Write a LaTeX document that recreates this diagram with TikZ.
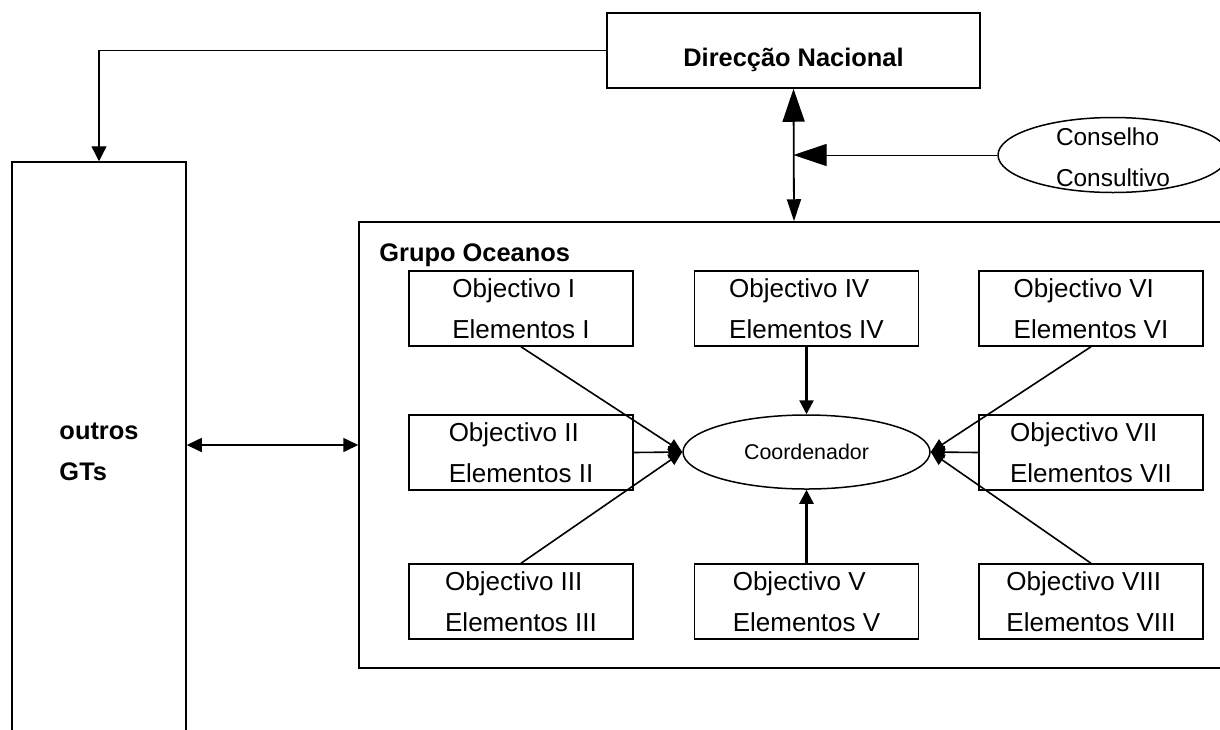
\documentclass[tikz,border=0pt]{standalone}
\usepackage{fontspec}
\setmainfont{Liberation Sans}
\usetikzlibrary{shapes.geometric, arrows.meta, calc}

\begin{document}
\begin{tikzpicture}[x=0.5pt, y=-0.5pt,
    box/.style={draw, line width=0.75pt, inner sep=0pt},
    bold/.style={font=\fontsize{12.7}{20.5}\selectfont\bfseries},
    objbox/.style={box, minimum width=112pt, minimum height=37.5pt, align=left, font=\fontsize{13}{20.5}\selectfont, execute at begin node={\rule{0pt}{13.5pt}}},
    tip/.style={-{Triangle[length=7pt, width=6pt]}, line width=0.8pt},
    vtip/.style={-{Triangle[length=7pt, width=7pt]}, line width=1.2pt}]
        \useasboundingbox (0,0) rectangle (1220,729);
        \clip (0,0) rectangle (1220,729);
        \node[box, bold, minimum width=186.5pt, minimum height=37.5pt, text height=16pt, text depth=0pt] (dn) at (793.5,50.5) {Direcção Nacional};
        \node[box, bold, align=left, minimum width=87pt, minimum height=289.5pt] (gts) at (99,451.5) {outros\\GTs};
        \node[box, minimum width=435pt, minimum height=223pt] (grupo) at (794,445) {};
        \node[bold, anchor=west, inner sep=0pt] (grupolbl) at (379,255) {Grupo Oceanos};
        \node[draw, ellipse, line width=0.75pt, minimum width=115pt, minimum height=37.5pt] (cc) at (1113,155) {};
        \node[align=left, font=\fontsize{12.2}{20.5}\selectfont] (cctxt) at (1113,157.5) {Conselho\\Consultivo};
        \node[objbox] (o1) at (521,308.5) {Objectivo I\\Elementos I};
        \node[objbox] (o2) at (521,452.5) {Objectivo II\\Elementos II};
        \node[objbox] (o3) at (521,601.5) {Objectivo III\\Elementos III};
        \node[objbox] (o4) at (806.5,308.5) {Objectivo IV\\Elementos IV};
        \node[objbox] (o5) at (806.5,601.5) {Objectivo V\\Elementos V};
        \node[objbox] (o6) at (1091,308.5) {Objectivo VI\\Elementos VI};
        \node[objbox] (o7) at (1091,452.5) {Objectivo VII\\Elementos VII};
        \node[objbox] (o8) at (1091,601.5) {Objectivo VIII\\Elementos VIII};
        \node[draw, ellipse, line width=0.75pt, inner sep=0pt, minimum width=123.5pt, minimum height=37pt, font=\fontsize{10.7}{12}\selectfont] (coord) at (806.5,452) {Coordenador};
        \draw[line width=0.65pt, -{Triangle[length=7.5pt, width=7.5pt]}] (dn.west) -| (gts.north);
        \draw[line width=0.8pt, {Triangle[length=7.5pt, width=7pt]}-{Triangle[length=7.5pt, width=7pt]}] (gts.east |- grupo.west) -- (grupo.west);
        \draw[line width=0.9pt, {Triangle[length=16.5pt, width=11pt]}-{Triangle[length=11pt, width=7pt]}] (dn.south) -- (grupo.north);
        \draw[line width=0.5pt, -{Triangle[length=16.5pt, width=11pt]}] (cc.west) -- (cc.west -| dn.south);
        \draw[tip] (o1.south) -- (coord.west);
        \draw[tip] (o2.east) -- (coord.west);
        \draw[tip] (o3.north) -- (coord.west);
        \draw[vtip] (o4.south) -- (coord.north);
        \draw[vtip] (o5.north) -- (coord.south);
        \draw[tip] (o6.south) -- (coord.east);
        \draw[tip] (o7.west) -- (coord.east);
        \draw[tip] (o8.north) -- (coord.east);
\end{tikzpicture}
\end{document}
